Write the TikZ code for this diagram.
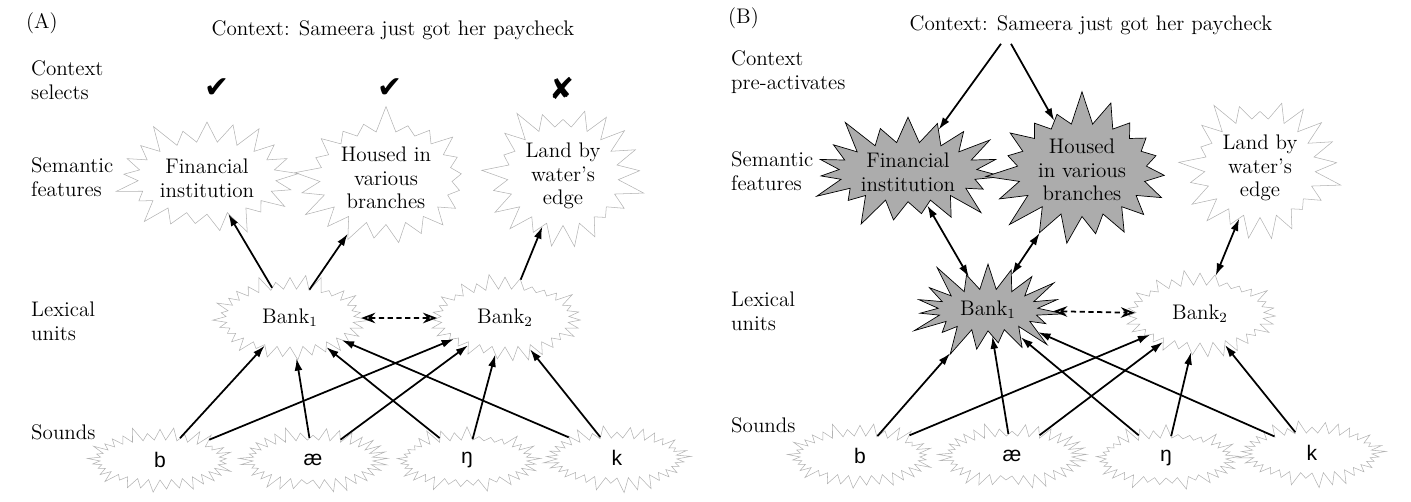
\documentclass[tikz,border=0pt]{standalone}
\usepackage{fontspec}
\usepackage{tikz}
\usetikzlibrary{positioning, arrows.meta, shapes.symbols, calc}
\newfontfamily\sndfont{Liberation Sans}
\newfontfamily\symfont{DejaVu Sans}

\tikzset{
  featburst/.style={starburst, starburst points=21, starburst point height=0.55cm, draw=gray!60, line width=0.3pt, minimum width=3.3cm, minimum height=2.55cm, inner sep=1pt, align=center},
  lexburst/.style={starburst, starburst points=31, starburst point height=0.32cm, draw=gray!60, line width=0.3pt, minimum width=3.2cm, minimum height=1.8cm},
  sndburst/.style={starburst, starburst points=33, starburst point height=0.3cm, draw=gray!60, line width=0.3pt, minimum width=3cm, minimum height=1.4cm, font=\sndfont\fontsize{12}{14}\selectfont},
  hotburst/.style={fill=gray!65, draw=black, line width=0.4pt, starburst points=19, starburst point height=0.7cm},
  rowlabel/.style={anchor=west, align=left},
  tickmark/.style={font=\symfont\fontsize{17}{17}\selectfont},
}

\begin{document}
\begin{tikzpicture}[x=0.02cm, y=-0.02cm, >={Latex[length=7pt,width=4.5pt]}, font=\fontsize{12}{13.5}\selectfont]
        \useasboundingbox (0,0) rectangle (1411,502);

        % Panel (A): nodes
        \node (pa) [anchor=west] at (20,23) {(A)};
        \node (ca) at (393,30) {Context: Sameera just got her paycheck};
        \node (ra1) [rowlabel] at (25,80) {Context\\selects};
        \node (ra2) [rowlabel] at (25,177) {Semantic\\features};
        \node (ra3) [rowlabel] at (25,321) {Lexical\\units};
        \node (ra4) [rowlabel] at (25,432) {Sounds};

        \node (ka1) [tickmark] at (217,88) {✔};
        \node (ka2) [tickmark] at (390,88) {✔};
        \node (ka3) [tickmark] at (562,88) {✘};

        \node (f1) [featburst] at (207,178) {Financial\\institution};
        \node (f2) [featburst, random starburst=7] at (386,178) {Housed in\\various\\branches};
        \node (f3) [featburst, random starburst=23] at (563,176) {Land by\\water’s\\edge};

        \node (l1) [lexburst] at (290,318) {Bank$_1$};
        \node (l2) [lexburst, random starburst=11] at (505,318) {Bank$_2$};

        \node (s1) [sndburst] at (160,460) {b};
        \node (s2) [sndburst, random starburst=3] at (313,460) {æ};
        \node (s3) [sndburst, random starburst=17] at (467,460) {ŋ};
        \node (s4) [sndburst, random starburst=29] at (617,458) {k};

        % Panel (A): arrows
        \draw[->, line width=1pt] (l1) -- (f1);
        \draw[->, line width=1pt] (l1) -- (f2);
        \draw[->, line width=1pt] (l2) -- (f3);
        \draw[{Stealth[open,length=8pt,width=6pt]}-{Stealth[open,length=8pt,width=6pt]}, densely dashed, line width=1pt] (l1) -- (l2);
        \foreach \s in {s1,s2,s3,s4} {
            \draw[->, line width=1pt] (\s) -- (l1);
            \draw[->, line width=1pt] (\s) -- (l2);
        }

        % Panel (B): nodes
        \node (pb) [anchor=west] at (722,18) {(B)};
        \node (cb) at (1091,25) {Context: Sameera just got her paycheck};
        \node (rb1) [rowlabel] at (725,72) {Context\\pre-activates};
        \node (rb2) [rowlabel] at (725,171) {Semantic\\features};
        \node (rb3) [rowlabel] at (725,311) {Lexical\\units};
        \node (rb4) [rowlabel] at (725,425) {Sounds};

        \node (g1) [featburst, hotburst] at (908,172) {Financial\\institution};
        \node (g2) [featburst, hotburst, random starburst=7] at (1082,170) {Housed\\in various\\branches};
        \node (g3) [featburst, random starburst=23] at (1260,168) {Land by\\water’s\\edge};

        \node (m1) [lexburst, hotburst, minimum width=3.4cm, minimum height=1.95cm] at (988,310) {Bank$_1$};
        \node (m2) [lexburst, random starburst=11] at (1200,314) {Bank$_2$};

        \node (t1) [sndburst] at (860,456) {b};
        \node (t2) [sndburst, random starburst=3] at (1012,456) {æ};
        \node (t3) [sndburst, random starburst=17] at (1166,458) {ŋ};
        \node (t4) [sndburst, random starburst=29] at (1312,453) {k};

        % Panel (B): arrows
        \draw[->, line width=1pt] ($(cb.south)+(-90,3)$) -- (g1);
        \draw[->, line width=1pt] ($(cb.south)+(-80,3)$) -- (g2);
        \draw[<->, line width=1pt] (m1) -- (g1);
        \draw[<->, line width=1pt] (m1) -- (g2);
        \draw[<->, line width=1pt] (m2) -- (g3);
        \draw[{Stealth[open,length=8pt,width=6pt]}-{Stealth[open,length=8pt,width=6pt]}, densely dashed, line width=1pt] (m1) -- (m2);
        \foreach \t in {t1,t2,t3,t4} {
            \draw[->, line width=1pt] (\t) -- (m1);
            \draw[->, line width=1pt] (\t) -- (m2);
        }

    \end{tikzpicture}
\end{document}
